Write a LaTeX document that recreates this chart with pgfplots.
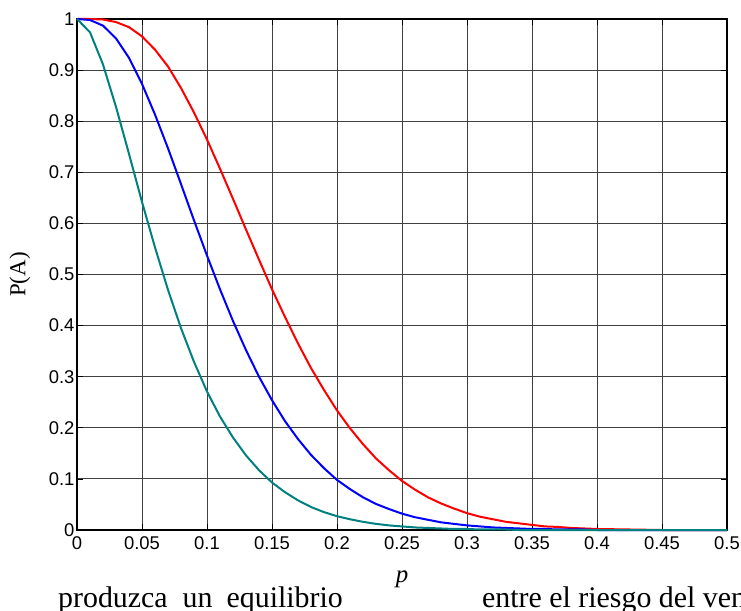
\documentclass[border=0pt]{standalone}
\usepackage{fontspec}
\setmainfont{Liberation Serif}
\newfontfamily\arial{Liberation Sans}
\usepackage{pgfplots}
\usepackage{pgfplotstable}
\pgfplotsset{compat=1.18}
\definecolor{mred}{RGB}{255,0,0}
\definecolor{mblue}{RGB}{0,0,255}
\definecolor{mteal}{RGB}{0,128,128}

% P(A) (teal, blue, red)
\pgfplotstableread{
p    c1    c2    c3
0.00 1.000 1.000 1.000
0.01 0.974 0.998 1.000
0.02 0.911 0.987 0.999
0.03 0.828 0.962 0.994
0.04 0.736 0.924 0.984
0.05 0.642 0.873 0.966
0.06 0.553 0.813 0.940
0.07 0.470 0.747 0.907
0.08 0.395 0.677 0.865
0.09 0.329 0.606 0.817
0.10 0.271 0.537 0.764
0.11 0.222 0.471 0.707
0.12 0.181 0.409 0.648
0.13 0.146 0.352 0.588
0.14 0.117 0.300 0.529
0.15 0.093 0.254 0.471
0.16 0.074 0.213 0.417
0.17 0.058 0.178 0.365
0.18 0.045 0.147 0.317
0.19 0.035 0.121 0.274
0.20 0.027 0.098 0.234
0.21 0.021 0.080 0.199
0.22 0.016 0.064 0.168
0.23 0.012 0.051 0.140
0.24 0.009 0.041 0.117
0.25 0.007 0.032 0.096
0.26 0.005 0.025 0.079
0.27 0.004 0.020 0.064
0.28 0.003 0.015 0.052
0.29 0.002 0.012 0.042
0.30 0.002 0.009 0.033
0.31 0.001 0.007 0.026
0.32 0.001 0.005 0.021
0.33 0.001 0.004 0.016
0.34 0.000 0.003 0.013
0.35 0.000 0.002 0.010
0.36 0.000 0.002 0.007
0.37 0.000 0.001 0.006
0.38 0.000 0.001 0.004
0.39 0.000 0.001 0.003
0.40 0.000 0.000 0.002
0.45 0.000 0.000 0.000
0.50 0.000 0.000 0.000
}\octable

\begin{document}
\begin{tikzpicture}
\path[use as bounding box] (-77bp,-81bp) rectangle (664bp,530bp);
\clip (-77bp,-81bp) rectangle (664bp,530bp);
\begin{axis}[
    scale only axis,
    width=650bp, height=511bp,
    xmin=0, xmax=0.5, ymin=0, ymax=1,
    xtick={0,0.05,0.1,0.15,0.2,0.25,0.3,0.35,0.4,0.45,0.5},
    ytick={0,0.1,0.2,0.3,0.4,0.5,0.6,0.7,0.8,0.9,1},
    grid=major,
    major grid style={black!75, line width=0.9bp},
    axis line style={black, line width=1.2bp},
    tick style={black, line width=0.8bp},
    major tick length=6bp, tick align=inside,
    ticklabel style={font=\arial\fontsize{18.5}{22}\selectfont},
    yticklabel style={xshift=1bp},
    /pgf/number format/assume math mode=true,
    /pgf/number format/fixed,
    /pgf/number format/precision=2,
    scaled ticks=false,
    xticklabel style={yshift=-3bp},
    xlabel={\textit{p}},
    xlabel style={font=\fontsize{25}{28}\selectfont, at={(axis description cs:0.5,-0.1037)}, anchor=base},
    ylabel={P(A)},
    ylabel style={font=\fontsize{23}{26}\selectfont, at={(axis description cs:-0.0877,0.5)}, anchor=center},
    clip=false,
    every axis plot/.append style={line width=2bp, no markers},
]
\addplot[mred] table[x=p, y=c3] {\octable};
\addplot[mblue] table[x=p, y=c2] {\octable};
\addplot[mteal] table[x=p, y=c1] {\octable};
\end{axis}
\node[anchor=base west, inner sep=0, font=\fontsize{30}{34}\selectfont] at (-19bp,-77bp) {produzca\hspace{15bp}un\hspace{14bp}equilibrio};
\node[anchor=base west, inner sep=0, font=\fontsize{30}{34}\selectfont] at (405bp,-77bp) {entre el riesgo del vendedor};
\end{tikzpicture}
\end{document}
